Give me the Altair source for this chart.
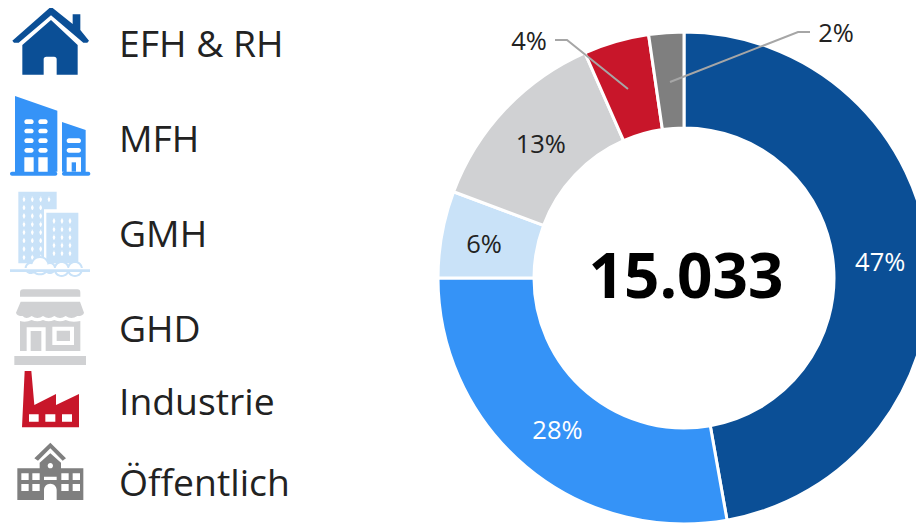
import altair as alt
import pandas as pd

W, H = 908, 515
FONT = "Open Sans"

# --- data ---
categories = ["EFH & RH", "MFH", "GMH", "GHD", "Industrie", "Öffentlich"]
shares = [47.2, 27.8, 5.7, 12.7, 4.3, 2.3]
colors = ["#0b4f96", "#3593f7", "#c9e2f8", "#d0d1d3", "#c8162a", "#7f7f7f"]
inner_labels = ["47%", "28%", "", "13%", "", ""]
outer_labels = ["4%", "2%", "6%"]
outer_x = [521, 828, 476]
outer_y = [34, 26, 237]
legend_x = [111] * 6
legend_y = [38, 133, 228, 323, 396, 477]
total_label = "15.033"
leader_a_x = [547, 559, 620]
leader_a_y = [32, 32, 81]
leader_b_x = [802, 790, 662]
leader_b_y = [24, 24, 74]


def R(a, b, c, d):
    return f"M{a},{b}L{c},{b}L{c},{d}L{a},{d}Z"


def P(*pts):
    return "M" + "L".join(f"{x},{y}" for x, y in pts) + "Z"


def C(cx, cy, r):
    return f"M{cx-r},{cy}A{r},{r} 0 1 1 {cx+r},{cy}A{r},{r} 0 1 1 {cx-r},{cy}Z"


def pill(a, b, c, d):
    r = (d - b) / 2
    return f"M{a+r},{b}L{c-r},{b}A{r},{r} 0 0 1 {c-r},{d}L{a+r},{d}A{r},{r} 0 0 1 {a+r},{b}Z"


def J(items):
    return "".join(items)


WHITE = "#ffffff"
BLUE, SKY, PALE, GREY, RED, DARK = colors

# Icon outlines in 3x units; first group origin is the page top, second 270px lower.
house = [(BLUE, J([
    P((153, 20), (218, 72), (218, 43), (241, 43), (241, 90), (267, 122), (262, 128), (250, 128),
      (153, 46), (56, 128), (42, 128), (37, 122)),
    "M67,135L153,60L233,135L233,224L170,224L170,178Q170,170 162,170L139,170Q131,170 131,178L131,224L67,224Z",
]))]
mfh_win = [pill(x, y, x + 28, y + 14) for y in (358, 386, 415, 444) for x in (73, 115)]
mfh = [
    (SKY, J([
        P((45, 288), (172, 332), (172, 515), (45, 515)),
        P((186, 366), (257, 390), (257, 515), (186, 515)),
        pill(30, 515, 172, 527), pill(186, 515, 271, 527),
    ])),
    (WHITE, J(mfh_win + [
        R(73, 472, 101, 515), R(115, 472, 143, 515),
        pill(200, 415, 243, 429), pill(200, 444, 243, 458),
        R(200, 472, 243, 515),
    ])),
    (SKY, R(215, 487, 228, 515)),
]
gmh_win = [pill(x, y, x + 8, y + 16) for y in (590, 615, 640, 665, 689, 714, 739, 764) for x in (68, 93, 118)]
gmh_win += [pill(143, 590, 151, 606)]
gmh_win += [pill(x, y, x + 8, y + 16) for y in (655, 680, 704, 728, 752) for x in (158, 182, 206)]
gmh = [
    (PALE, J([
        P((55, 575), (170, 575), (170, 628), (132, 628), (132, 790), (55, 790)),
        R(139, 638, 235, 790),
    ])),
    (WHITE, J(gmh_win)),
    (PALE, J([C(120, 797, 29), C(92, 804, 18), C(150, 804, 18), C(185, 807, 24), C(225, 807, 24)])),
    (WHITE, J([C(120, 797, 23), C(92, 804, 12), C(150, 804, 12), C(185, 807, 18), C(225, 807, 18), R(70, 804, 250, 816)])),
    (PALE, R(30, 808, 270, 816)),
]
ghd = [
    (GREY, J([
        "M70,58L232,58Q241,58 241,68L241,80L60,80L60,68Q60,58 70,58Z",
        ("M62,95L240,95L252,128Q250,138 232,138Q214,150 197,138Q180,150 163,138Q146,150 129,138"
         "Q112,150 95,138Q78,150 68,138Q50,138 48,128Z"),
        "M60,153Q78,158 95,150Q112,158 129,150Q146,158 163,150Q180,158 197,150Q214,158 241,153L241,243L60,243Z",
        R(43, 258, 258, 285),
    ])),
    (WHITE, J([R(80, 172, 137, 243), R(157, 170, 222, 225)])),
    (GREY, J([R(92, 183, 124, 243), R(170, 182, 210, 213)])),
]
factory = [
    (RED, P((74, 303), (94, 303), (103, 405), (168, 372), (168, 405), (237, 372), (237, 472), (66, 472))),
    (WHITE, J([R(87, 433, 116, 455), R(136, 433, 166, 455), R(186, 433, 216, 455)])),
]
school = [
    (DARK, J([
        P((151, 518), (198, 565), (188, 572), (151, 535), (114, 572), (103, 565)),
        P((151, 550), (183, 578), (183, 595), (250, 595), (250, 690), (52, 690), (52, 595), (119, 595), (119, 578)),
    ])),
    (WHITE, J([
        R(64, 610, 86, 630), R(97, 610, 119, 630), R(64, 642, 86, 663), R(97, 642, 119, 663),
        R(184, 610, 206, 630), R(218, 610, 240, 630), R(184, 642, 206, 663), R(218, 642, 240, 663),
        C(151, 587, 8), R(132, 620, 170, 630),
        "M132,690L132,660A19,19 0 0 1 170,660L170,690Z",
    ])),
]
icons_top = house + mfh + gmh
icons_low = ghd + factory + school

# --- chart ---
pos_x = alt.Scale(domain=[0, W], range=[0, W])
pos_y = alt.Scale(domain=[0, H], range=[0, H])
one = pd.DataFrame({"a": [0]})

pie = pd.DataFrame({"cat": categories, "share": shares, "idx": range(6), "label": inner_labels})
CX, CY = 676, 270

arcs = alt.Chart(pie).mark_arc(outerRadius=246, innerRadius=150, stroke="white", strokeWidth=3).encode(
    x=alt.value(CX), y=alt.value(CY),
    theta=alt.Theta("share:Q", stack=True),
    color=alt.Color("cat:N", scale=alt.Scale(domain=categories, range=colors), legend=None),
    order=alt.Order("idx:Q"),
)
pct = alt.Chart(pie).mark_text(radius=197, fontSize=25.5, font=FONT, dy=2).encode(
    x=alt.value(CX), y=alt.value(CY),
    theta=alt.Theta("share:Q", stack=True),
    order=alt.Order("idx:Q"),
    text="label:N",
    color=alt.condition("datum.share > 20", alt.value("white"), alt.value("#222222")),
)
layers = [arcs, pct]

for lx, ly in ((leader_a_x, leader_a_y), (leader_b_x, leader_b_y)):
    df = pd.DataFrame({"x": lx, "y": ly, "o": range(len(lx))})
    layers.append(alt.Chart(df).mark_line(color="#a6a6a6", strokeWidth=2).encode(
        x=alt.X("x:Q", scale=pos_x, axis=None),
        y=alt.Y("y:Q", scale=pos_y, axis=None),
        order="o:Q",
    ))

out = pd.DataFrame({"x": outer_x, "y": outer_y, "t": outer_labels})
layers.append(alt.Chart(out).mark_text(fontSize=25.5, font=FONT, color="#222222").encode(
    x=alt.X("x:Q", scale=pos_x, axis=None), y=alt.Y("y:Q", scale=pos_y, axis=None), text="t:N"))

leg = pd.DataFrame({"x": legend_x, "y": legend_y, "t": categories})
layers.append(alt.Chart(leg).mark_text(fontSize=37.3, font=FONT, align="left", baseline="middle", color="#222222").encode(
    x=alt.X("x:Q", scale=pos_x, axis=None), y=alt.Y("y:Q", scale=pos_y, axis=None), text="t:N"))

layers.append(alt.Chart(pd.DataFrame({"t": [total_label]})).mark_text(
    fontSize=62, font=FONT, fontWeight="bold", color="#000000", baseline="middle"
).encode(x=alt.value(678), y=alt.value(271), text="t:N"))

for group, oy in ((icons_top, -8), (icons_low, 262)):
    for col, path in group:
        layers.append(alt.Chart(one).mark_point(
            shape=path, size=4 / 9, filled=True, color=col, opacity=1, strokeWidth=0
        ).encode(x=alt.value(-8), y=alt.value(oy)))

chart = alt.layer(*layers).properties(
    width=W, height=H, padding=0, autosize=alt.AutoSizeParams(type="none"),
).configure_view(stroke=None)

chart.save("out.html", embed_options={"renderer": "svg", "actions": False})
